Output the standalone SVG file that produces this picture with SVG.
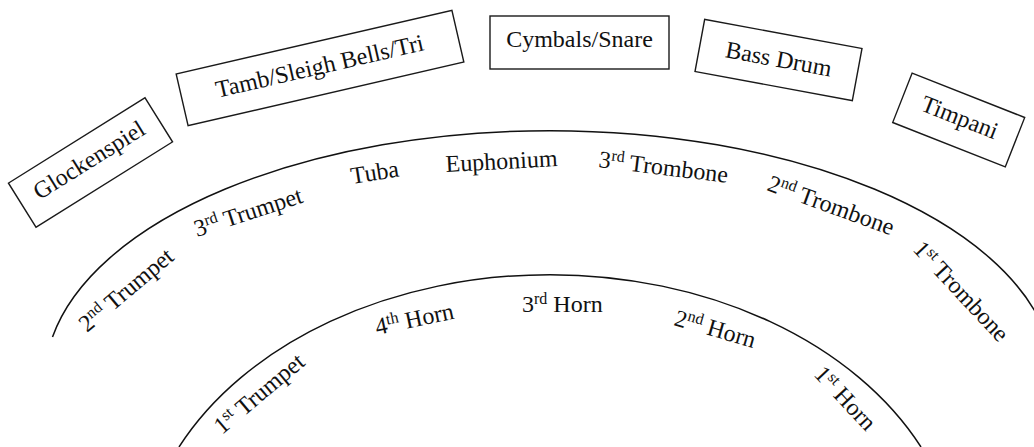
<svg xmlns="http://www.w3.org/2000/svg" width="1034" height="447" viewBox="0 0 1034 447">
<style>
.box rect{fill:#fff;stroke:#1a1a1a;stroke-width:1.4}
text{font-family:"Liberation Serif","Times New Roman",serif;font-size:24px;fill:#111}
.box text{text-anchor:middle}
.sup{font-size:16px}
.arc{fill:none;stroke:#111;stroke-width:1.5}
</style>
<rect width="1034" height="447" fill="#fff"/>
<g id="connectors">
<path id="outer-arc" class="arc" d="M52.5,337 A505,250 0 0 1 1047,337"/>
<path id="inner-arc" class="arc" d="M179,447 A410,300 0 0 1 921,447"/>
</g>
<g id="glockenspiel" class="box" transform="translate(90.5,162.5) rotate(-32)"><rect x="-80.5" y="-26" width="161" height="52"/><text x="0" y="5">Glockenspiel</text></g>
<g id="tamb" class="box" transform="translate(320,68) rotate(-13)"><rect x="-141.5" y="-26.5" width="283" height="53"/><text x="0" y="6">Tamb/Sleigh Bells/Tri</text></g>
<g id="cymbals" class="box" transform="translate(579.5,42.5)"><rect x="-89.5" y="-26.5" width="179" height="53"/><text x="0" y="4">Cymbals/Snare</text></g>
<g id="bassdrum" class="box" transform="translate(778.5,60) rotate(10.5)"><rect x="-80" y="-26.5" width="160" height="53"/><text x="0" y="7">Bass Drum</text></g>
<g id="timpani" class="box" transform="translate(958.7,120) rotate(21.5)"><rect x="-60.5" y="-26.5" width="121" height="53"/><text x="0" y="5">Timpani</text></g>
<g id="trumpet2"><text transform="translate(87,333) rotate(-40)">2<tspan class="sup" dy="-8">nd</tspan><tspan dy="8"> Trumpet</tspan></text></g>
<g id="trumpet3"><text transform="translate(197,237) rotate(-18)">3<tspan class="sup" dy="-8">rd</tspan><tspan dy="8"> Trumpet</tspan></text></g>
<g id="tuba"><text transform="translate(352,184) rotate(-9)">Tuba</text></g>
<g id="euphonium"><text transform="translate(446,172) rotate(-3)">Euphonium</text></g>
<g id="trombone3"><text transform="translate(598,167) rotate(7)">3<tspan class="sup" dy="-8">rd</tspan><tspan dy="8"> Trombone</tspan></text></g>
<g id="trombone2"><text transform="translate(766,190) rotate(20)">2<tspan class="sup" dy="-8">nd</tspan><tspan dy="8"> Trombone</tspan></text></g>
<g id="trombone1"><text transform="translate(912,250) rotate(47)">1<tspan class="sup" dy="-8">st</tspan><tspan dy="8"> Trombone</tspan></text></g>
<g id="trumpet1"><text transform="translate(222,435) rotate(-40)">1<tspan class="sup" dy="-8">st</tspan><tspan dy="8"> Trumpet</tspan></text></g>
<g id="horn4"><text transform="translate(377,335) rotate(-12)">4<tspan class="sup" dy="-8">th</tspan><tspan dy="8"> Horn</tspan></text></g>
<g id="horn3"><text transform="translate(522,312)">3<tspan class="sup" dy="-8">rd</tspan><tspan dy="8"> Horn</tspan></text></g>
<g id="horn2"><text transform="translate(673,325) rotate(16)">2<tspan class="sup" dy="-8">nd</tspan><tspan dy="8"> Horn</tspan></text></g>
<g id="horn1"><text transform="translate(813,375) rotate(47)">1<tspan class="sup" dy="-8">st</tspan><tspan dy="8"> Horn</tspan></text></g>
</svg>
